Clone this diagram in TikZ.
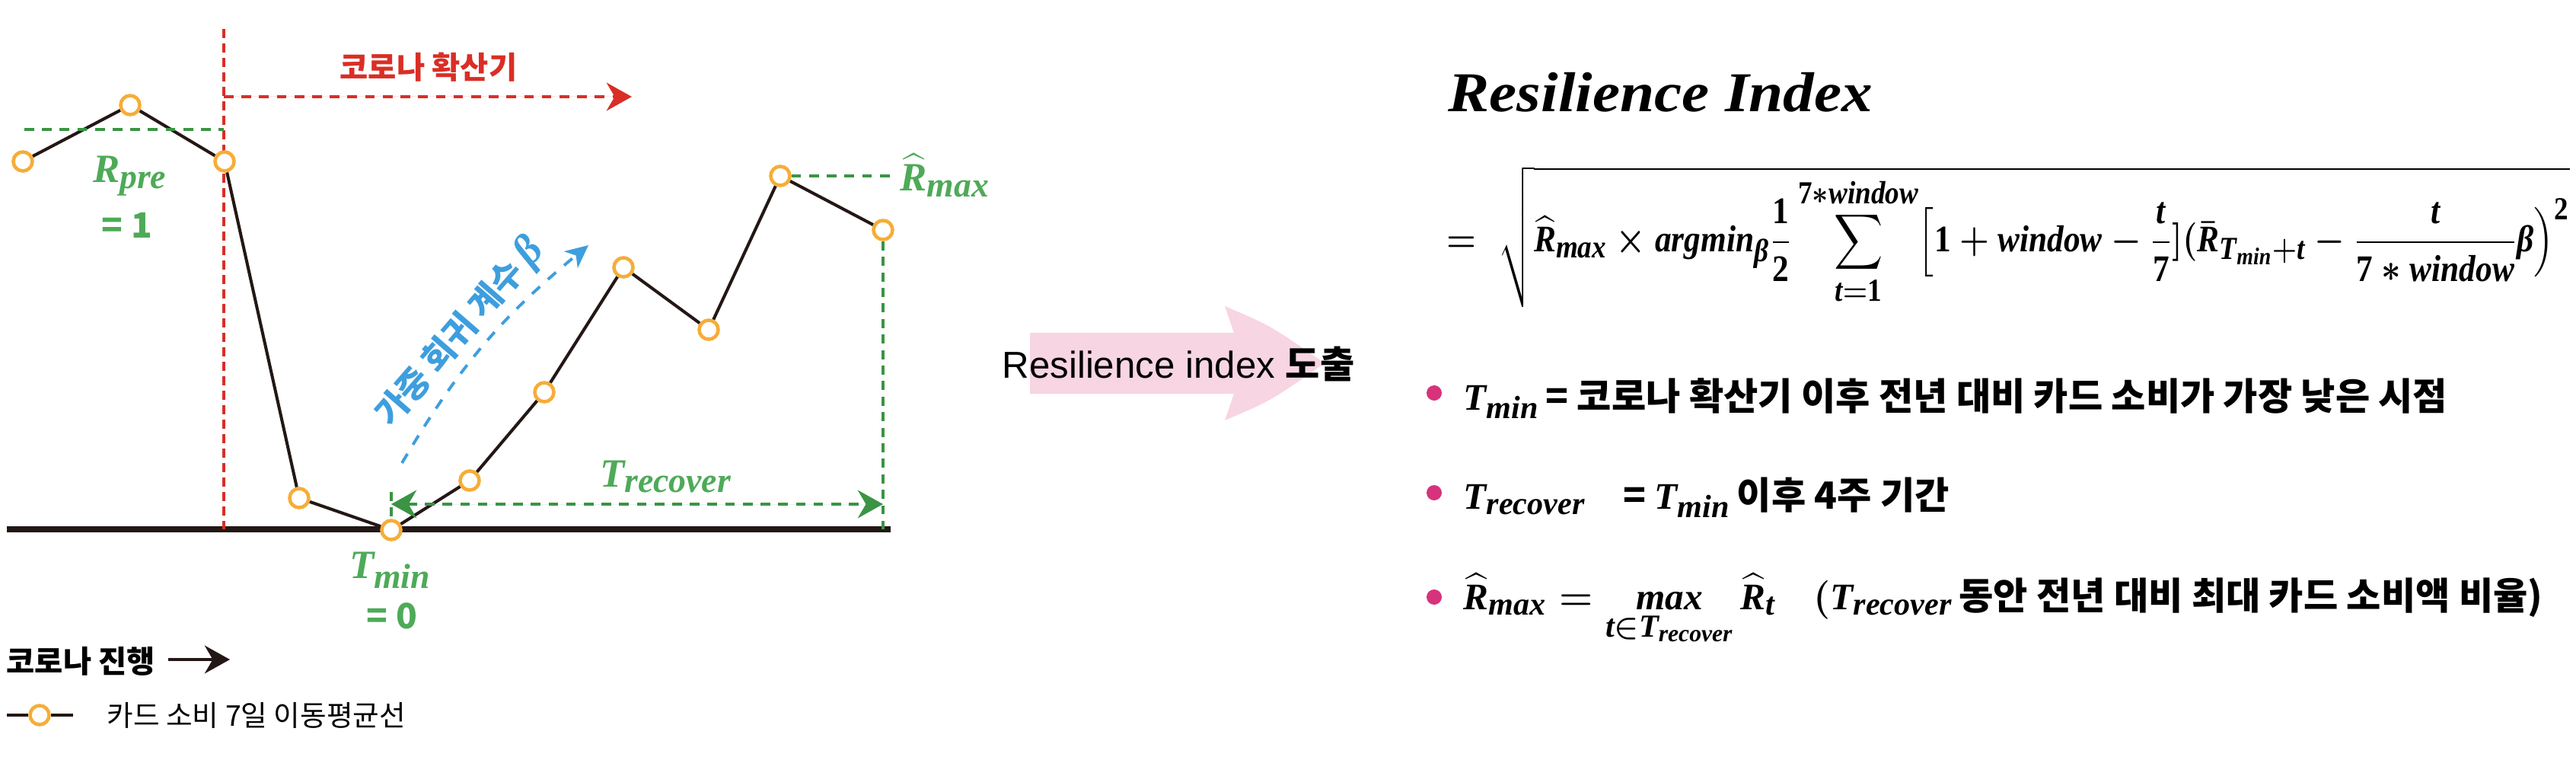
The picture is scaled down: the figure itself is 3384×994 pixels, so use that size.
\documentclass[tikz,border=0pt]{standalone}
\usepackage[no-math]{fontspec}
\usepackage{amsmath}
\newfontfamily\kr{Noto Sans CJK KR}
\newfontfamily\arial{Liberation Sans}
\newfontfamily\mvar{Liberation Serif}
\usetikzlibrary{arrows.meta,calc,positioning,backgrounds}
\definecolor{coronared}{RGB}{217,46,38}
\definecolor{labelgreen}{RGB}{78,170,88}
\definecolor{dashgreen}{RGB}{58,148,68}
\definecolor{markorange}{RGB}{246,173,55}
\definecolor{betablue}{RGB}{62,158,222}
\definecolor{arrowpink}{RGB}{247,213,227}
\definecolor{bulletpink}{RGB}{214,51,124}
\definecolor{inkblack}{RGB}{35,24,21}
\DeclareMathSizes{14}{14}{12}{9}
\DeclareMathSizes{15}{15}{13}{10}
% bold italic variables, bold upright numbers
\newcommand\iv[1]{\text{\mvar\bfseries\itshape #1}}
\newcommand\uv[1]{\text{\mvar\bfseries #1}}
\tikzset{
  sample/.style={
    circle,
    draw=markorange,
    fill=white,
    line width=1.3pt,
    minimum size=.25cm,
    inner sep=0pt
  },
  series/.style={
    line width=1.15pt,
    draw=inkblack
  },
  axisline/.style={
    line width=2pt,
    draw=inkblack
  },
  reddash/.style={
    draw=coronared,
    line width=1.1pt,
    dash pattern=on 3.4pt off 2pt
  },
  sqdash/.style={
    line width=1.4pt,
    dash pattern=on 3.6pt off 3pt
  },
  gdash/.style={
    draw=dashgreen,
    line width=1.1pt,
    dash pattern=on 3.4pt off 2.4pt
  },
  tip/.style={
    -{Stealth[length=9.4pt,width=10.4pt,inset=3pt]}
  },
  glabel/.style={
    text=labelgreen,
    inner sep=0pt,
    font=\fontsize{15}{18}\selectfont\boldmath
  },
  gnum/.style={
    text=labelgreen,
    inner sep=0pt,
    font=\kr\bfseries\fontsize{13}{15}\selectfont
  },
  krlabel/.style={
    inner sep=0pt,
    font=\kr\bfseries\fontsize{11.5}{14}\selectfont
  },
  item/.style={
    anchor=base west,
    inner sep=0pt,
    font=\kr\bfseries\fontsize{14}{16}\selectfont\boldmath
  },
  bulletdot/.style={
    circle,
    fill=bulletpink,
    minimum size=.2cm,
    inner sep=0pt
  }
}

\begin{document}
\begin{tikzpicture}[x=0.01cm,y=-0.01cm]
\useasboundingbox (0,0) rectangle (3384,994);

% card spending curve
\foreach \n/\x/\y in {1/30/212,2/171/138,3/295/212,4/393/654,5/514/696,6/617/631,7/715/515,8/819/351,9/931/433,10/1025/231,11/1160/302}
  \node[sample] (p\n) at (\x,\y) {};
\foreach \a/\b in {1/2,2/3,3/4,4/5,5/6,6/7,7/8,8/9,9/10,10/11}
  \draw[series] (p\a) -- (p\b);

\coordinate (axl) at (9,695);
\coordinate (axr) at (1170,695);
\coordinate (outtop) at (294,38);
\coordinate (trtick) at (514,646);
\begin{scope}[on background layer]
  \draw[axisline] (axl) -- (axr);
  \draw[reddash] (outtop) -- (outtop |- axl);
  \draw[gdash] (trtick) -- (p5.center);
\end{scope}

% spread period
\coordinate (sp0) at (294,127);
\coordinate (sp1) at (830,127);
\draw[sqdash, draw=coronared, fill=coronared, tip] (sp0) -- (sp1);
\node[krlabel, text=coronared] (spread) at (563,88) {코로나 확산기};

% R_pre
\coordinate (pre0) at (32,170);
\draw[sqdash, draw=dashgreen] (pre0) -- (pre0 -| outtop);
\node[glabel, anchor=base] (rpre) at (171,240) {$\iv{R}_{\iv{pre}}$};
\node[gnum, anchor=base] (rpreval) at (167,313) {= 1};

% R_max
\coordinate (rmx) at (1170,231);
\draw[sqdash, draw=dashgreen] (p10) -- (rmx);
\node[glabel, anchor=base west] (rmax) at (1182,251) {$\widehat{\iv{R}}_{\iv{max}}$};
\draw[gdash] (p11) -- (p11 |- axl);

% T_recover
\coordinate (tr0) at (514,662);
\coordinate (tr1) at (1160,662);
\draw[sqdash, draw=dashgreen, fill=dashgreen, {Stealth[length=9.4pt,width=10.4pt,inset=3pt]}-{Stealth[length=9.4pt,width=10.4pt,inset=3pt]}] (tr0) -- (tr1);
\node[glabel, anchor=base] (trec) at (875,639) {$\iv{T}_{\iv{recover}}$};
\node[glabel, anchor=base] (tmin) at (513,759) {$\iv{T}_{\iv{min}}$};
\node[gnum, anchor=base] (tminval) at (515,825) {= 0};

% beta
\coordinate (bt0) at (528,608);
\coordinate (bt1) at (773,322);
\draw[betablue, line width=1.1pt, dash pattern=on 4pt off 4pt, -{Stealth[length=8.5pt,width=8pt,inset=2.5pt]}] (bt0) to[bend left=10] (bt1);
\node[krlabel, text=betablue, font=\kr\bfseries\fontsize{12.8}{15}\selectfont, rotate=49] (beta) at (605,437) {가중 회귀 계수 {\fontsize{16}{18}\selectfont\mvar\bfseries\itshape β}};

% legend
\node[krlabel, anchor=west] (prog) at (8,868) {코로나 진행};
\coordinate (progend) at (302,866);
\draw[line width=1.2pt, inkblack, -{Stealth[length=9.4pt,width=10.4pt,inset=3pt]}] (prog.east |- progend) ++(16,0) -- (progend);
\node[sample] (lg) at (52,939) {};
\coordinate (lgl) at (9,939);
\coordinate (lgr) at (96,939);
\draw[series] (lgl) -- (lg);
\draw[series] (lg) -- (lgr);
\node[krlabel, anchor=west, font=\kr\fontsize{10.7}{13}\selectfont] (lgtext) at (140,939) {카드 소비 7일 이동평균선};

% derive arrow
\fill[arrowpink] (1353,437) -- (1621,437) -- (1609,402) .. controls (1670,428) .. (1740,477)
  .. controls (1670,526) .. (1609,552) -- (1621,517) -- (1353,517) -- cycle;
\node[inner sep=0pt, font=\arial\fontsize{14}{16}\selectfont] (derive) at (1548,478) {Resilience index {\kr\bfseries 도출}};

% index formula
\node[anchor=base west, inner sep=0pt, font=\mvar\bfseries\itshape\fontsize{21}{24}\selectfont] (title) at (1902,147) {\scalebox{1.1}[1]{Resilience Index}};
\node[anchor=west, inner sep=0pt, font=\fontsize{14}{16}\selectfont\boldmath] (formula) at (1900,311)
  {\scalebox{0.88}[1]{$\displaystyle =\ \sqrt{\widehat{\iv{R}}_{\iv{max}}\times\iv{argmin}_{\iv{β}}\frac{\uv{1}}{\uv{2}}\sum_{\iv{t}=\uv{1}}^{\uv{7}\ast\iv{window}}\Bigl[\uv{1}+\iv{window}-\frac{\iv{t}}{\uv{7}}](\bar{\iv{R}}_{\iv{T}_{\iv{min}}+\iv{t}}-\frac{\iv{t}}{\uv{7}\ast\iv{window}}\iv{β}\Bigr)^{\uv{2}}}$}};

% definitions
\node[bulletdot] (b1) at (1884,516) {};
\node[bulletdot] (b2) at (1884,647) {};
\node[bulletdot] (b3) at (1884,784) {};
\node[item] (d1) at (1922,538) {$\iv{T}_{\iv{min}}$\,= 코로나 확산기 이후 전년 대비 카드 소비가 가장 낮은 시점};
\node[item] (d2) at (1922,668) {$\iv{T}_{\iv{recover}}$\quad= $\iv{T}_{\iv{min}}$\,이후 4주 기간};
\node[item] (d3) at (1922,800) {$\widehat{\iv{R}}_{\iv{max}}=\mathop{\iv{max}}\limits_{\iv{t}\in\iv{T}_{\iv{recover}}}\widehat{\iv{R}}_{\iv{t}}\quad(\iv{T}_{\iv{recover}}$\,동안 전년 대비 최대 카드 소비액 비율)};
\end{tikzpicture}
\end{document}
